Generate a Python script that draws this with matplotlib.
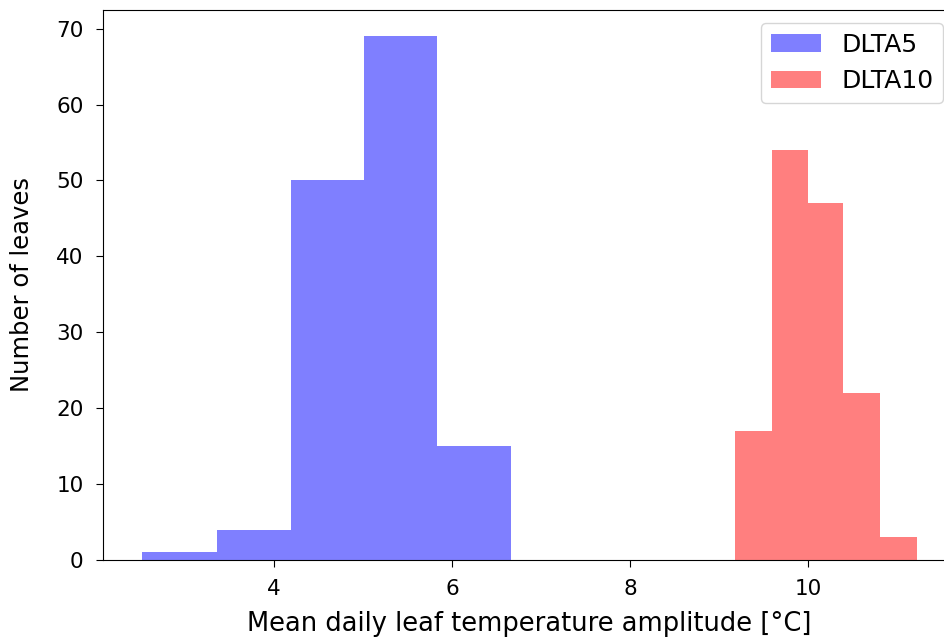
import numpy as np
import matplotlib.pyplot as plt

# histogram bins and counts
dlta5_edges = [2.52, 3.36, 4.19, 5.01, 5.83, 6.66]
dlta5_counts = [1, 4, 50, 69, 15]
dlta10_edges = [9.18, 9.59, 9.99, 10.39, 10.80, 11.22]
dlta10_counts = [17, 54, 47, 22, 3]

plt.rcParams['font.size'] = 17

fig = plt.figure(figsize=(9.45, 6.41), dpi=100)
# the right spine sits just past the picture's edge, as in the reference crop
ax = fig.add_axes([103 / 945, 81 / 641, 853 / 945, 550 / 641])

ax.hist(dlta5_edges[:-1], bins=dlta5_edges, weights=dlta5_counts,
        color='blue', alpha=0.5, label='DLTA5')
ax.hist(dlta10_edges[:-1], bins=dlta10_edges, weights=dlta10_counts,
        color='red', alpha=0.5, label='DLTA10')

ax.set_xlabel('Mean daily leaf temperature amplitude [°C]', fontsize=18.5,
              labelpad=8)
ax.set_ylabel('Number of leaves', fontsize=17.5, labelpad=16)
ax.set_xticks([4, 6, 8, 10])
ax.tick_params(labelsize=15.5, length=5, pad=9)
ax.legend(loc='upper right', fontsize=18)

fig.savefig('out.png', dpi=100)
